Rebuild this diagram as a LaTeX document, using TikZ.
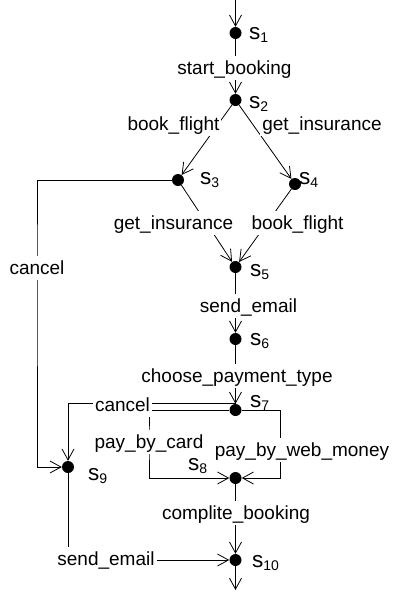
\documentclass[tikz,border=0pt]{standalone}
\usepackage{fontspec}
\setmainfont{Liberation Sans}
\usetikzlibrary{arrows.meta,backgrounds}
\newcommand{\stname}[1]{{\fontsize{22.5}{22.5}\selectfont s}{\fontsize{14}{14}\selectfont\raisebox{-3.5pt}{#1}}}
\begin{document}
\begin{tikzpicture}[x=1pt,y=-1pt,
  dot/.style={circle,fill=black,inner sep=0pt,minimum size=12pt},
  lbl/.style={fill=white,anchor=base,inner xsep=2pt,inner ysep=1.5pt,text height=17pt,text depth=4pt,font=\fontsize{19}{19}\selectfont},
  sname/.style={anchor=base west,inner sep=0pt},
  conn/.style={line width=0.8pt},
  arr/.style={conn,-{Straight Barb[length=11pt,width=12pt,line width=0.8pt]}}]
\useasboundingbox (0,0) rectangle (394,592);
% states
\node[dot] (s1) at (235.5,33) {};
\node[dot] (s2) at (235.5,100) {};
\node[dot] (s3) at (178,180) {};
\node[dot] (s4) at (295,184) {};
\node[dot] (s5) at (235.5,267) {};
\node[dot] (s6) at (235.5,339) {};
\node[dot] (s7) at (235.5,410) {};
\node[dot] (s8) at (235.5,478) {};
\node[dot] (s9) at (68,467) {};
\node[dot] (s10) at (235.5,560) {};
\coordinate (top) at (235.5,0);
\coordinate (bot) at (235.5,590);
\coordinate (wm) at (280,410);
% state names
\node[sname] (n1) at (249,39) {\stname{1}};
\node[sname] (n2) at (249,108) {\stname{2}};
\node[sname] (n3) at (200,184) {\stname{3}};
\node[sname] (n4) at (299,184) {\stname{4}};
\node[sname] (n5) at (250,276) {\stname{5}};
\node[sname] (n6) at (250,345) {\stname{6}};
\node[sname] (n7) at (250,407) {\stname{7}};
\node[sname] (n8) at (188,470) {\stname{8}};
\node[sname] (n9) at (88,480) {\stname{9}};
\node[sname] (n10) at (252,567) {\stname{10}};
% transition labels
\node[lbl] (l1) at (234.5,74) {start\_booking};
\node[lbl] (l2) at (173.5,130) {book\_flight};
\node[lbl] (l3) at (322,130) {get\_insurance};
\node[lbl] (l4) at (173.5,229) {get\_insurance};
\node[lbl] (l5) at (297.5,229) {book\_flight};
\node[lbl] (l6) at (37,274) {cancel};
\node[lbl] (l7) at (248.5,312) {send\_email};
\node[lbl] (l8) at (237,382) {choose\_payment\_type};
\node[lbl] (l9) at (122.5,411.5) {cancel};
\node[lbl] (l10) at (149,448) {pay\_by\_card};
\node[lbl] (l11) at (302,456) {pay\_by\_web\_money};
\node[lbl] (l12) at (236,519) {complite\_booking};
\node[lbl] (l13) at (106,565) {send\_email};
% connectors
\begin{pgfonlayer}{background}
\draw[arr] (top) -- (s1);
\draw[arr] (s1) -- (s2);
\draw[arr] (s2) -- (s3);
\draw[arr] (s2) -- (s4);
\draw[arr] (s3) -- (s5);
\draw[arr] (s4) -- (s5);
\draw[arr] (s5) -- (s6);
\draw[arr] (s6) -- (s7);
\draw[arr] (s3) -| (l6.center) |- (s9);
\draw[arr] (s7.north) -| (s9);
\draw[arr] (s7) -| (l10.center) |- (s8);
\draw[arr] (s7) -- (wm) |- (s8);
\draw[arr] (s8) -- (s10);
\draw[arr] (s9) |- (s10);
\draw[arr] (s10) -- (bot);
\end{pgfonlayer}
\end{tikzpicture}
\end{document}
